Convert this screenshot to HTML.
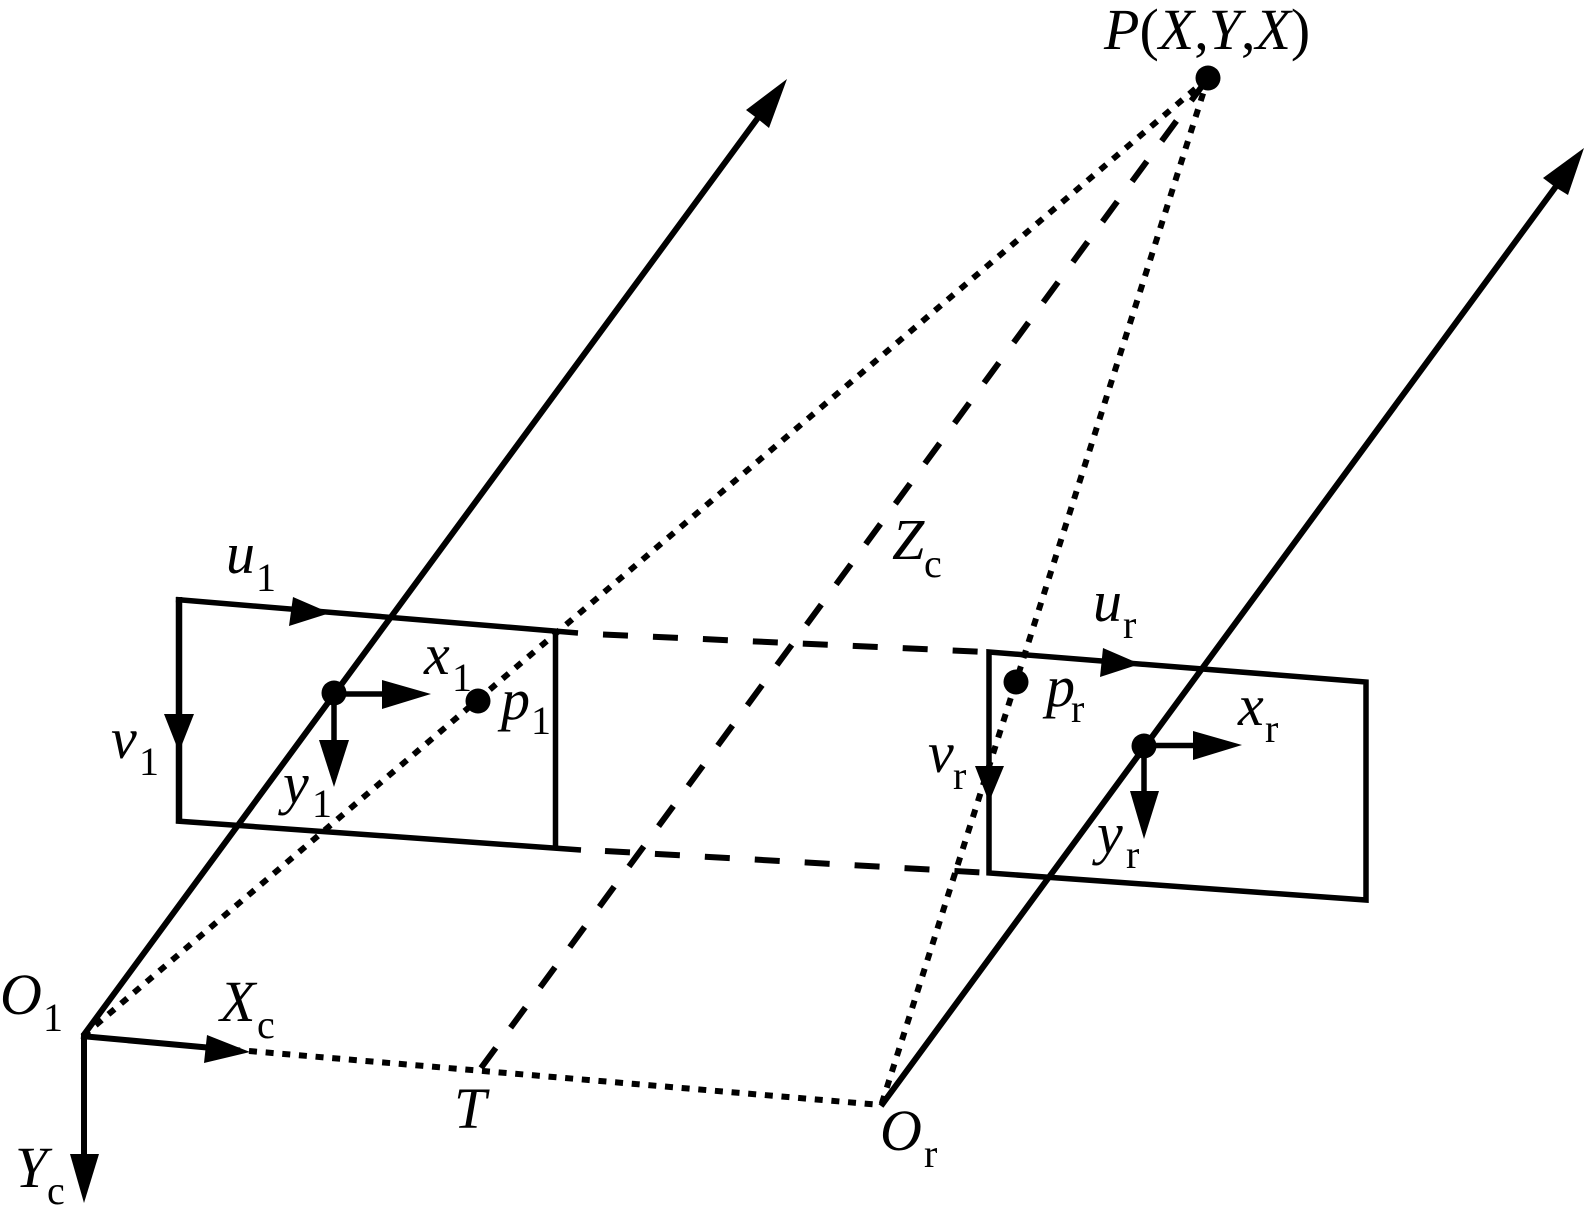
<!DOCTYPE html>
<html>
<head>
<meta charset="utf-8">
<style>
html,body{margin:0;padding:0;background:#fff;width:1585px;height:1222px;overflow:hidden}
svg{display:block}
text{font-family:"Liberation Serif",serif;font-size:58px;fill:#000}
.i{font-style:italic}
.s{font-size:40px}
</style>
</head>
<body>
<svg width="1585" height="1222" viewBox="0 0 1585 1222" xmlns="http://www.w3.org/2000/svg">
<g fill="none" stroke="#000" stroke-width="6" stroke-linejoin="miter">
<!-- optical axes -->
<line x1="83" y1="1036" x2="760" y2="115"/>
<line x1="881" y1="1106" x2="1557" y2="185"/>
<!-- left image plane -->
<line x1="179" y1="597" x2="179" y2="823.5" stroke-width="6.5"/>
<line x1="176" y1="599.5" x2="578" y2="633" stroke-width="5.5"/>
<line x1="176" y1="821" x2="581" y2="850" stroke-width="5.5"/>
<line x1="555.5" y1="631" x2="555.5" y2="847" stroke-width="5.5"/>
<!-- right image plane -->
<polygon points="989,652 1366,682 1366,900 989,873" stroke-width="5.5"/>
<!-- world axes -->
<line x1="84" y1="1034" x2="84" y2="1160"/>
<line x1="81" y1="1036" x2="240" y2="1050.5"/>
<!-- small axes -->
<line x1="334" y1="694" x2="390" y2="694" stroke-width="5.5"/>
<line x1="334" y1="693" x2="334" y2="745" stroke-width="5.5"/>
<line x1="1144" y1="745.5" x2="1200" y2="745.5" stroke-width="5.5"/>
<line x1="1144" y1="746" x2="1144" y2="796" stroke-width="5.5"/>
</g>
<!-- dashed -->
<g fill="none" stroke="#000" stroke-width="6" stroke-dasharray="25 25">
<line x1="603" y1="634.5" x2="978" y2="651.6"/>
<line x1="605" y1="851" x2="980" y2="872.4"/>
<line x1="481" y1="1068" x2="1208" y2="78"/>
</g>
<!-- dotted -->
<g fill="none" stroke="#000" stroke-width="6" stroke-dasharray="8 8.7">
<line x1="83" y1="1036" x2="1208" y2="78"/>
<line x1="881" y1="1106" x2="1208" y2="78" stroke-dashoffset="-2.5"/>
<line x1="249" y1="1051" x2="881" y2="1105"/>
</g>
<!-- arrowheads -->
<g fill="#000" stroke="none">
<polygon points="787,79 769,128 758,119 746,110"/>
<polygon points="1584,148 1568,195 1555,187 1543,178"/>
<polygon points="84,1203 70,1154 99,1154"/>
<polygon points="250,1052 204,1063 207,1035"/>
<polygon points="330,613 289,626 293,597"/>
<polygon points="1140,664 1100,677 1103,648"/>
<polygon points="179,752 164,714 194,714"/>
<polygon points="989,802 975,766 1004,766"/>
<polygon points="431,694 382,709 382,680"/>
<polygon points="334,787 319,740 349,740"/>
<polygon points="1242,745 1193,760 1193,731"/>
<polygon points="1144,839 1130,791 1159,791"/>
<!-- points -->
<circle cx="1208" cy="78" r="12.5"/>
<circle cx="334" cy="693" r="12.5"/>
<circle cx="478" cy="701" r="12.5"/>
<circle cx="1016" cy="682" r="12.5"/>
<circle cx="1144" cy="746" r="12.5"/>
</g>
<!-- labels -->
<text x="1104" y="49"><tspan class="i">P</tspan>(<tspan class="i">X</tspan>,<tspan class="i">Y</tspan>,<tspan class="i">X</tspan>)</text>
<text x="226" y="573" class="i">u</text><text x="256" y="591" class="s">1</text>
<text x="424" y="674" class="i">x</text><text x="452" y="691" class="s">1</text>
<text x="501" y="719" class="i">p</text><text x="531" y="734" class="s">1</text>
<text x="111" y="758" class="i">v</text><text x="139" y="775" class="s">1</text>
<text x="283" y="803" class="i">y</text><text x="312" y="817" class="s">1</text>
<text x="0" y="1014" class="i">O</text><text x="43" y="1031" class="s">1</text>
<text x="220" y="1021" class="i">X</text><text x="257" y="1038" class="s">c</text>
<text x="15" y="1187" class="i">Y</text><text x="47" y="1204" class="s">c</text>
<text x="454" y="1128" class="i">T</text>
<text x="880" y="1150" class="i">O</text><text x="924" y="1167" class="s">r</text>
<text x="892" y="559" class="i">Z</text><text x="924" y="577" class="s">c</text>
<text x="1093" y="621" class="i">u</text><text x="1123" y="638" class="s">r</text>
<text x="1046" y="706" class="i">p</text><text x="1071" y="722" class="s">r</text>
<text x="928" y="772" class="i">v</text><text x="953" y="789" class="s">r</text>
<text x="1238" y="725" class="i">x</text><text x="1265" y="742" class="s">r</text>
<text x="1097" y="853" class="i">y</text><text x="1126" y="868" class="s">r</text>
</svg>
</body>
</html>
